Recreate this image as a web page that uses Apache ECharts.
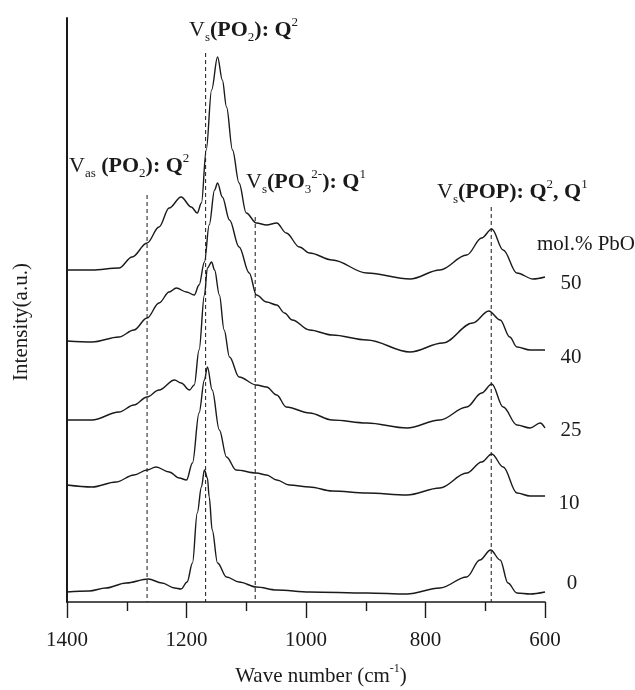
<!DOCTYPE html>
<html><head><meta charset="utf-8">
<script src="https://cdn.jsdelivr.net/npm/echarts@6/dist/echarts.min.js"></script>
<style>html,body{margin:0;padding:0;background:#fff}#c{width:635px;height:690px}</style>
</head><body><div id="c"></div>
<script>
// ---- data (wave number in cm-1, intensity in a.u., curves stacked with offsets) ----
const xTicks = [1400, 1200, 1000, 800, 600];
const pboLevels = ['0', '10', '25', '40', '50'];

const wn0 = [1400,1363,1335,1301,1264,1241,1220,1209,1199,1190,1182,1175,1170,1165,1162,1157,1148,1133,1112,1083,1049,994,898,831,776,731,709,691,675,662,647,625,600];
const int0 = [10,11,14,19,23,19,14,13,20,39,89,115,132,124,105,72,39,25,20,15,12,10,9,8,14,25,42,52,42,19,9,8,10];

const wn10 = [1400,1358,1318,1288,1266,1251,1229,1212,1200,1190,1179,1170,1165,1157,1145,1133,1117,1083,1066,1049,1028,994,956,898,831,776,731,706,689,670,647,625,600];
const int10 = [117,115,120,127,132,135,130,124,122,139,189,222,235,212,172,145,132,129,127,122,117,115,111,109,107,114,129,140,148,135,109,106,106];

const wn25 = [1400,1358,1313,1288,1266,1246,1220,1209,1195,1187,1179,1170,1165,1158,1153,1145,1137,1128,1112,1083,1066,1049,1033,994,956,898,831,776,731,706,689,670,647,625,608,600];
const int25 = [182,182,190,197,205,212,222,219,212,217,252,307,334,340,332,307,272,245,225,217,215,207,195,189,182,179,174,182,195,209,218,195,177,174,179,174];

const wn40 = [1400,1358,1313,1288,1266,1246,1229,1217,1200,1187,1179,1170,1162,1153,1148,1140,1128,1112,1095,1083,1066,1049,1036,1023,994,956,898,826,771,721,694,675,659,647,625,600];
const int40 = [261,260,265,272,284,299,310,314,310,307,317,340,377,412,419,405,382,355,329,307,300,297,289,282,272,267,262,250,259,279,291,282,265,255,252,252];

const wn50 = [1400,1358,1313,1291,1266,1246,1229,1209,1192,1182,1175,1167,1158,1148,1140,1133,1123,1112,1100,1083,1066,1049,1033,1011,994,956,898,826,776,731,706,689,670,647,620,600];
const int50 = [332,332,334,345,359,375,394,405,395,389,399,452,512,545,522,495,452,419,389,379,377,379,369,355,349,342,329,323,332,347,364,373,352,329,323,325];

// band positions (cm-1) and the top of each dashed guide (a.u.)
const bandWn = [1266, 1168, 1085, 690];
const bandTop = [407, 549, 385, 395];

// ---- chart ----
const FONT = 'Liberation Serif';
const INK = '#1a1a1a';
const curves = [[wn0,int0],[wn10,int10],[wn25,int25],[wn40,int40],[wn50,int50]];

const series = [];
curves.forEach(function(c, k){
  series.push({
    type:'line', name: pboLevels[k], symbol:'none', smooth:0.35, smoothMonotone:'x',
    data: c[0].map(function(w,i){ return [w, c[1][i]]; }),
    lineStyle:{color:INK, width:1.4}, silent:true, z:3
  });
});
bandWn.forEach(function(w,i){
  series.push({
    type:'line', symbol:'none', silent:true, z:2,
    data:[[w, bandTop[i]], [w, 0]],
    lineStyle:{color:INK, width:1, type:[4,3]}
  });
});

const base = {fontFamily:FONT, fontSize:22, lineHeight:28, fill:INK};
const rich = {
  v: Object.assign({}, base),
  b: Object.assign({}, base, {fontWeight:'bold'}),
  s: {fontFamily:FONT, fontSize:13, lineHeight:13, verticalAlign:'bottom', fill:INK},
  p: {fontFamily:FONT, fontSize:13, lineHeight:13, verticalAlign:'top', fill:INK},
  n: {fontFamily:FONT, fontSize:21, lineHeight:26, fill:INK},
  ps: {fontFamily:FONT, fontSize:12, lineHeight:12, verticalAlign:'top', fill:INK}
};
function txt(x, y, text, align){
  return {type:'text', x:x, y:y, silent:true,
    style:{text:text, rich:rich, fill:INK, fontFamily:FONT, fontSize:21, verticalAlign:'middle', align:align||'left'}};
}
const graphics = [
  txt(189, 30, '{v|V}{s|s}{b|(PO}{s|2}{b|): Q}{p|2}'),
  txt(69, 166, '{v|V}{s|as}{b| (PO}{s|2}{b|): Q}{p|2}'),
  txt(246, 182, '{v|V}{s|s}{b|(PO}{s|3}{p|2-}{b|): Q}{p|1}'),
  txt(437, 192, '{v|V}{s|s}{b|(POP): Q}{p|2}{b|, Q}{p|1}'),
  txt(537, 244, '{n|mol.% PbO}'),
  txt(571, 283, '{n|50}', 'center'),
  txt(571, 357, '{n|40}', 'center'),
  txt(571, 430, '{n|25}', 'center'),
  txt(569, 503, '{n|10}', 'center'),
  txt(572, 583, '{n|0}', 'center'),
  txt(321, 676, '{n|Wave number (cm}{ps|-1}{n|)}', 'center'),
  {type:'text', x:21, y:322, rotation:Math.PI/2, silent:true,
    style:{text:'Intensity(a.u.)', fill:INK, fontFamily:FONT, fontSize:21, align:'center', verticalAlign:'middle'}}
];

const chart = echarts.init(document.getElementById('c'), null, {renderer:'canvas'});
chart.setOption({
  animation:false,
  backgroundColor:'#fff',
  grid:{left:67, right:90, top:18, bottom:88, containLabel:false},
  xAxis:{
    type:'value', inverse:true, min:600, max:1400, interval:200,
    axisLine:{lineStyle:{color:INK, width:1.6}},
    axisTick:{inside:false, length:16, lineStyle:{color:INK, width:1.4}},
    minorTick:{show:true, splitNumber:2, length:9, lineStyle:{color:INK, width:1.4}},
    axisLabel:{margin:28, color:INK, fontFamily:FONT, fontSize:21,
      formatter:function(v){ return xTicks.indexOf(v) >= 0 ? String(v) : ''; }},
    splitLine:{show:false}
  },
  yAxis:{
    type:'value', min:0, max:584,
    axisLine:{show:true, onZero:false, lineStyle:{color:INK, width:2}},
    axisTick:{show:false}, axisLabel:{show:false}, splitLine:{show:false}
  },
  series:series,
  graphic:graphics
});
</script></body></html>
